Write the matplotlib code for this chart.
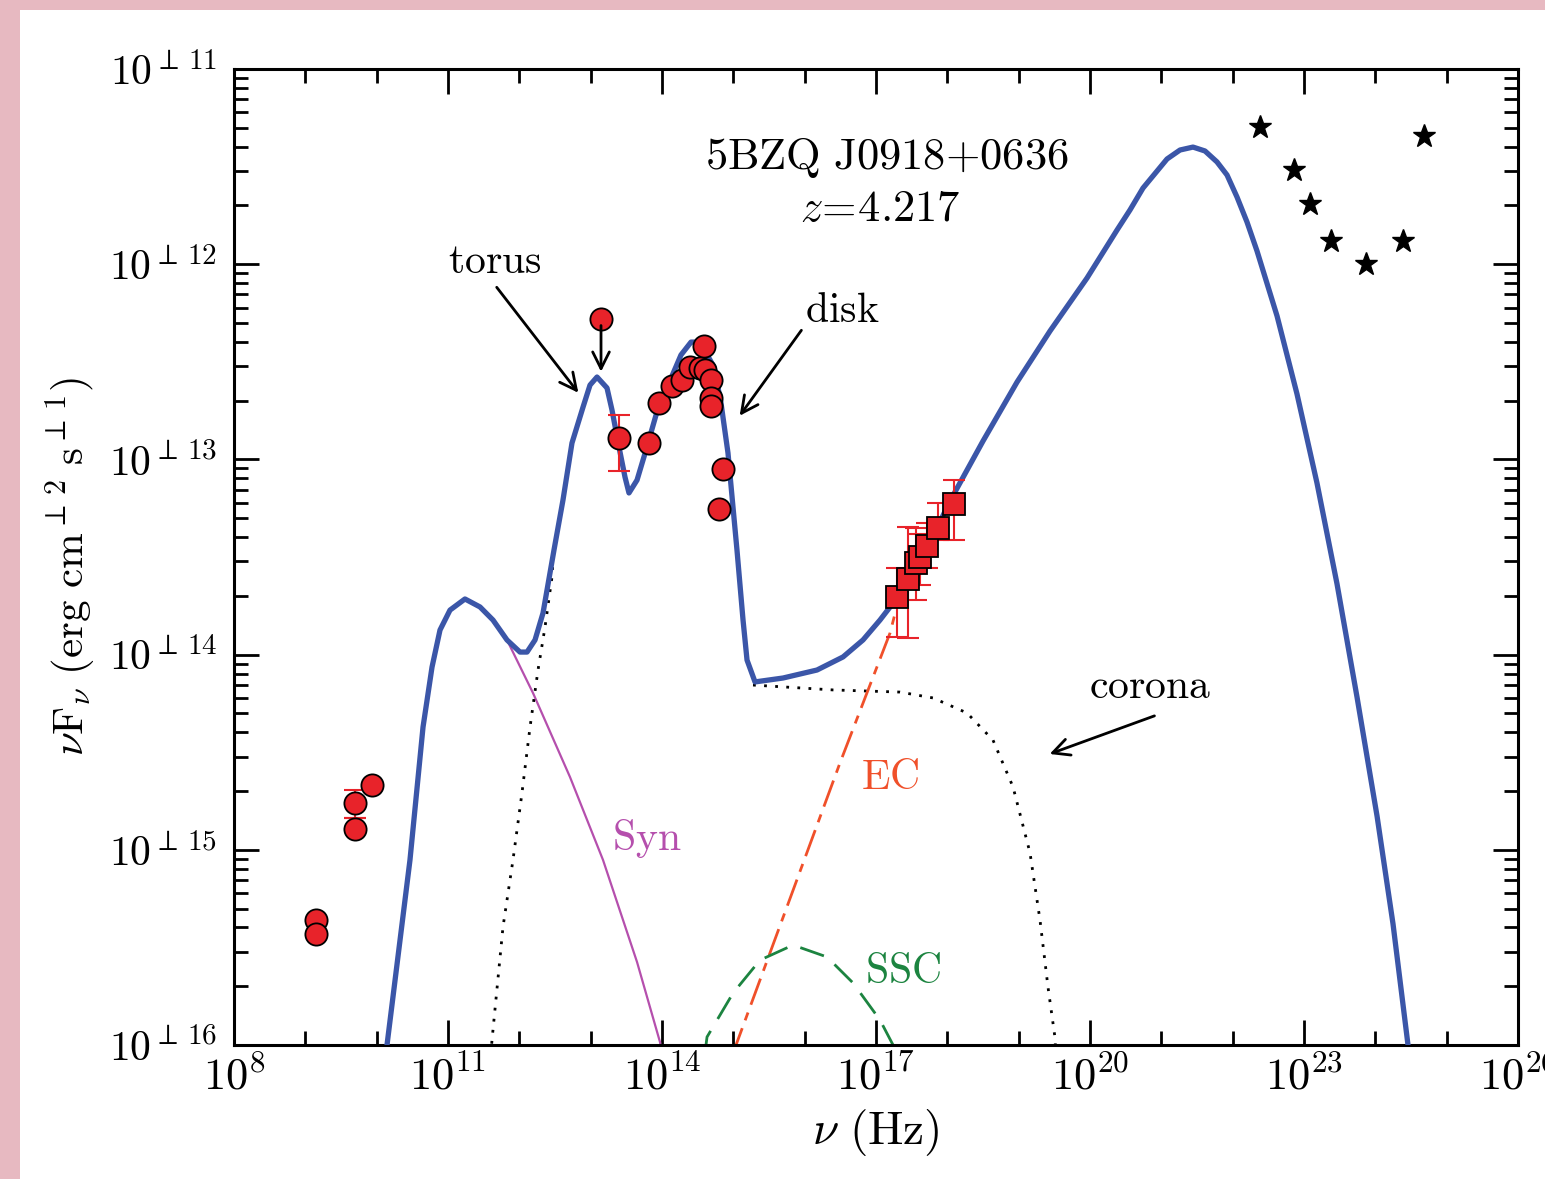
import numpy as np
import matplotlib
matplotlib.use("Agg")
import matplotlib.pyplot as plt
from matplotlib.patches import Rectangle
from matplotlib.ticker import FixedLocator, NullFormatter

plt.rcParams["mathtext.fontset"] = "cm"
plt.rcParams["font.family"] = "serif"
plt.rcParams["font.serif"] = ["cmr10", "DejaVu Serif"]
plt.rcParams["axes.formatter.use_mathtext"] = True

# --- model curves, log10(nu) and log10(nuFnu) ---
total_lx = [10.10, 10.145, 10.467, 10.650, 10.776, 10.888, 11.028, 11.238, 11.449, 11.631, 11.827,
            12.009, 12.108, 12.220, 12.332, 12.486, 12.612, 12.738, 12.893, 12.991, 13.089, 13.229,
            13.299, 13.397, 13.481, 13.537, 13.650, 13.776, 13.916, 14.098, 14.266, 14.407, 14.533,
            14.729, 14.827, 14.925, 15.051, 15.136, 15.192, 15.304, 15.696, 16.173, 16.538, 16.818,
            17.056, 17.337, 17.617, 18.038, 18.500, 18.977, 19.440, 19.958, 20.379, 20.561, 20.743,
            21.080, 21.262, 21.444, 21.612, 21.780, 21.921, 22.061, 22.201, 22.341, 22.622, 22.902,
            23.182, 23.463, 23.743, 24.024, 24.248, 24.458, 24.50]
total_ly = [-16.20, -16.0, -15.052, -14.371, -14.064, -13.874, -13.772, -13.715, -13.756, -13.823,
            -13.925, -13.987, -13.987, -13.925, -13.787, -13.464, -13.208, -12.916, -12.732, -12.619,
            -12.578, -12.634, -12.747, -12.936, -13.090, -13.172, -13.106, -12.952, -12.773, -12.609,
            -12.465, -12.399, -12.399, -12.527, -12.711, -12.967, -13.464, -13.823, -14.028, -14.140,
            -14.120, -14.079, -14.012, -13.925, -13.823, -13.690, -13.531, -13.213, -12.906, -12.604,
            -12.342, -12.071, -11.825, -11.722, -11.610, -11.461, -11.415, -11.400, -11.420, -11.476,
            -11.543, -11.656, -11.784, -11.932, -12.265, -12.665, -13.121, -13.638, -14.217, -14.827,
            -15.380, -16.0, -16.20]

syn_lx = [10.10, 10.145, 10.467, 10.650, 10.776, 10.888, 11.028, 11.238, 11.449, 11.631, 11.827,
          12.192, 12.710, 13.173, 13.650, 13.972, 14.00]
syn_ly = [-16.20, -16.0, -15.052, -14.371, -14.064, -13.874, -13.772, -13.715, -13.756, -13.823,
          -13.925, -14.197, -14.627, -15.052, -15.575, -15.985, -16.05]

torus_lx = [11.60, 11.617, 11.771, 11.911, 12.037, 12.150, 12.262, 12.360, 12.458, 12.48]
torus_ly = [-16.05, -15.974, -15.395, -15.052, -14.709, -14.371, -14.079, -13.859, -13.602, -13.47]

corona_lx = [15.276, 16.397, 17.337, 17.799, 18.276, 18.640, 18.921, 19.159, 19.299, 19.411, 19.510, 19.52]
corona_ly = [-14.156, -14.181, -14.192, -14.222, -14.299, -14.438, -14.678, -15.016, -15.360, -15.703,
             -15.964, -16.05]

ec_lx = [15.02, 15.038, 16.495, 17.197, 17.337, 17.617, 18.038, 18.500]
ec_ly = [-16.05, -16.0, -14.555, -13.889, -13.690, -13.531, -13.213, -12.906]

ssc_lx = [14.60, 14.631, 14.996, 15.374, 15.837, 16.313, 16.678, 17.056, 17.239, 17.26]
ssc_ly = [-16.05, -15.959, -15.734, -15.565, -15.488, -15.549, -15.682, -15.872, -16.0, -16.05]

# --- data points ---
circ_lx = [9.150, 9.150, 9.696, 9.696, 9.935, 13.145, 13.397, 13.818, 13.958, 14.140, 14.281,
           14.393, 14.533, 14.603, 14.687, 14.687, 14.687, 14.589, 14.855, 14.799]
circ_ly = [-15.360, -15.431, -14.760, -14.893, -14.668, -12.281, -12.890, -12.916, -12.711, -12.624,
           -12.593, -12.527, -12.532, -12.542, -12.593, -12.685, -12.726, -12.419, -13.049, -13.254]
circ_err_lo = [0, 0, 0.077, 0, 0, 0, 0.169, 0, 0, 0, 0, 0, 0, 0, 0, 0, 0, 0, 0, 0]
circ_err_hi = [0, 0, 0.066, 0.056, 0, 0, 0.117, 0, 0, 0, 0, 0, 0, 0, 0, 0, 0, 0, 0, 0]
ul_lx, ul_from, ul_to = 13.145, -12.30, -12.565

sq_lx = [17.295, 17.449, 17.561, 17.617, 17.715, 17.869, 18.094]
sq_ly = [-13.705, -13.613, -13.531, -13.500, -13.444, -13.351, -13.228]
sq_err_lo = [0.205, 0.302, 0.190, 0.143, 0.110, 0.062, 0.185]
sq_err_hi = [0.15, 0.267, 0.180, 0.120, 0.120, 0.128, 0.122]

star_lx = [22.384, 22.860, 23.085, 23.379, 23.870, 24.388, 24.683]
star_ly = [-11.297, -11.517, -11.692, -11.881, -11.999, -11.881, -11.343]

BLUE = "#3b56a8"
RED = "#e8232a"


def P(v):
    return 10.0 ** np.asarray(v, dtype=float)


fig = plt.figure(figsize=(15.45, 11.79), dpi=100, facecolor="#e7b9c1")
bg = fig.add_axes([0, 0, 1, 1], zorder=-10)
bg.set_axis_off()
bg.add_patch(Rectangle((20 / 1545, 0), 1 - 20 / 1545, 1 - 10 / 1179,
                       transform=bg.transAxes, facecolor="white", edgecolor="none"))
ax = fig.add_axes([234 / 1545, 134 / 1179, 1284 / 1545, 976 / 1179])
ax.set_facecolor("white")
ax.set_xscale("log")
ax.set_yscale("log")

ax.plot(P(syn_lx), P(syn_ly), color="#b54fad", lw=1.6, zorder=2)
ax.plot(P(torus_lx), P(torus_ly), color="black", lw=2.0, ls=(0, (1, 3)), zorder=2)
ax.plot(P(corona_lx), P(corona_ly), color="black", lw=2.0, ls=(0, (1, 3)), zorder=2)
ax.plot(P(ec_lx), P(ec_ly), color="#f0502a", lw=2.0, ls=(0, (10, 3, 3, 3)), zorder=2)
ax.plot(P(ssc_lx), P(ssc_ly), color="#1c8440", lw=2.0, ls=(0, (9, 5)), zorder=2)
ax.plot(P(total_lx), P(total_ly), color=BLUE, lw=3.8, zorder=3,
        solid_joinstyle="round", solid_capstyle="round")

cy = P(circ_ly)
ax.errorbar(P(circ_lx), cy,
            yerr=[cy - P(np.array(circ_ly) - np.array(circ_err_lo)),
                  P(np.array(circ_ly) + np.array(circ_err_hi)) - cy],
            fmt="none", ecolor=RED, elinewidth=1.5, capsize=8, capthick=1.5, zorder=4)
ax.plot(P(circ_lx), cy, "o", ms=16, mfc=RED, mec="black", mew=1.3, zorder=5)
ax.annotate("", xy=(P(ul_lx), P(ul_to)), xytext=(P(ul_lx), P(ul_from)),
            arrowprops=dict(arrowstyle="->", lw=2.0, color="black", mutation_scale=30), zorder=6)

sy = P(sq_ly)
ax.errorbar(P(sq_lx), sy,
            yerr=[sy - P(np.array(sq_ly) - np.array(sq_err_lo)),
                  P(np.array(sq_ly) + np.array(sq_err_hi)) - sy],
            fmt="none", ecolor=RED, elinewidth=1.5, capsize=8, capthick=1.5, zorder=4)
ax.plot(P(sq_lx), sy, "s", ms=16, mfc=RED, mec="black", mew=1.3, zorder=5)

ax.plot(P(star_lx), P(star_ly), "*", ms=17, color="black", zorder=5)

# --- annotations ---
fs = 30
ax.text(P(17.155), P(-11.451), r"$\mathrm{5BZQ\ J0918{+}0636}$", fontsize=32, ha="center", va="center")
ax.text(P(17.056), P(-11.722), r"$z\!=\!\mathrm{4.217}$", fontsize=32, ha="center", va="center")
ax.text(P(11.659), P(-11.989), r"$\mathrm{torus}$", fontsize=fs, ha="center", va="center")
ax.text(P(16.524), P(-12.240), r"$\mathrm{disk}$", fontsize=fs, ha="center", va="center")
ax.text(P(20.842), P(-14.166), r"$\mathrm{corona}$", fontsize=fs, ha="center", va="center")
ax.text(P(13.790), P(-14.940), r"$\mathrm{Syn}$", fontsize=fs, ha="center", va="center", color="#b54fad")
ax.text(P(17.197), P(-14.632), r"$\mathrm{EC}$", fontsize=fs, ha="center", va="center", color="#f0502a")
ax.text(P(17.379), P(-15.626), r"$\mathrm{SSC}$", fontsize=fs, ha="center", va="center", color="#1c8440")

arrow = dict(arrowstyle="->", lw=2.0, color="black", mutation_scale=30)
ax.annotate("", xy=(P(12.851), P(-12.670)), xytext=(P(11.659), P(-12.107)), arrowprops=arrow)
ax.annotate("", xy=(P(15.066), P(-12.788)), xytext=(P(15.977), P(-12.327)), arrowprops=arrow)
ax.annotate("", xy=(P(19.398), P(-14.514)), xytext=(P(20.940), P(-14.309)), arrowprops=arrow)

# --- axes ---
ax.set_xlim(1e8, 1e26)
ax.set_ylim(1e-16, 1e-11)
xmaj = [1e8, 1e11, 1e14, 1e17, 1e20, 1e23, 1e26]
ax.set_xticks(xmaj)
ax.set_xticklabels([r"$10^{8}$", r"$10^{11}$", r"$10^{14}$", r"$10^{17}$",
                    r"$10^{20}$", r"$10^{23}$", r"$10^{26}$"])
ax.xaxis.set_minor_locator(FixedLocator([10.0 ** k for k in range(8, 27) if k % 3 != 2]))
ax.xaxis.set_minor_formatter(NullFormatter())
ymaj = [1e-16, 1e-15, 1e-14, 1e-13, 1e-12, 1e-11]
ax.set_yticks(ymaj)
ax.set_yticklabels([r"$10^{\perp\,%d}$" % k for k in (16, 15, 14, 13, 12, 11)])
ax.yaxis.set_minor_locator(FixedLocator([m * 10.0 ** k for k in range(-16, -11) for m in range(2, 10)]))
ax.yaxis.set_minor_formatter(NullFormatter())

ax.tick_params(which="both", direction="in", top=True, right=True, width=2.0)
ax.tick_params(which="major", length=18)
ax.tick_params(which="minor", length=10)
ax.tick_params(axis="x", which="major", pad=8, labelsize=32)
ax.tick_params(axis="y", which="major", pad=12, labelsize=30)
for s in ax.spines.values():
    s.set_linewidth(2.2)

ax.set_xlabel(r"$\nu\ (\mathrm{Hz})$", fontsize=34, labelpad=6)
ax.set_ylabel(r"$\nu\mathrm{F}_\nu\ (\mathrm{erg\ cm}^{\perp\,2}\ \mathrm{s}^{\perp\,1})$", fontsize=31)
ax.yaxis.set_label_coords(-0.106, 0.49)

fig.savefig("out.png", dpi=100, facecolor=fig.get_facecolor())
